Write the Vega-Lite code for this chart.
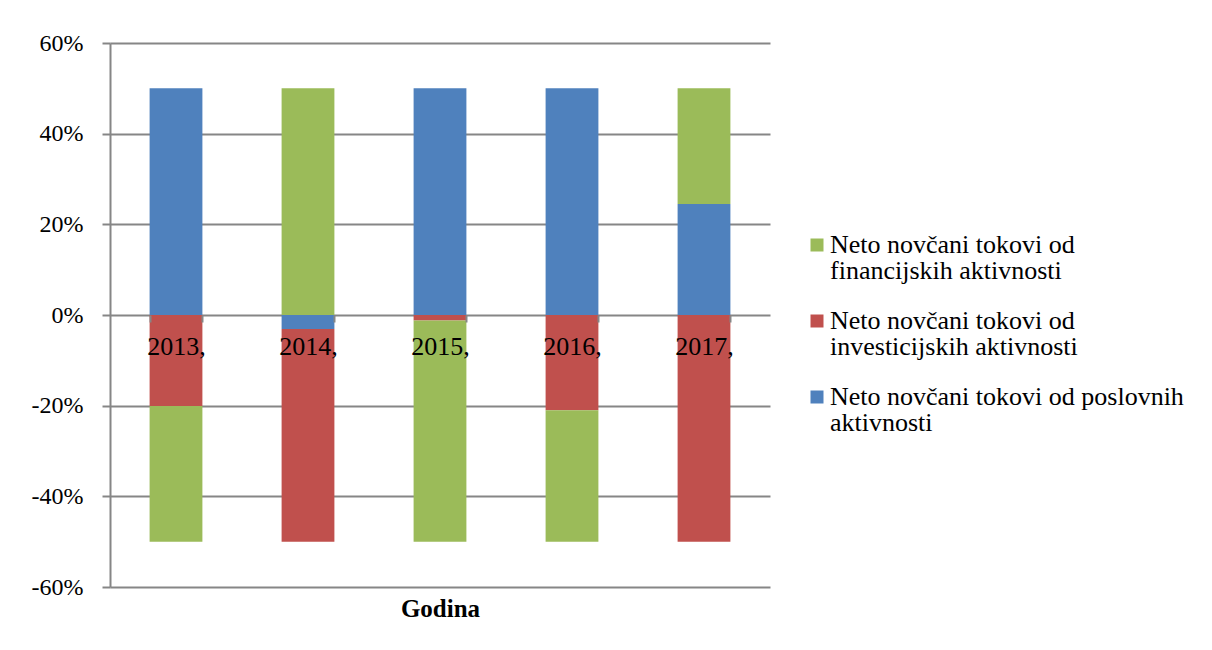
{
  "$schema": "https://vega.github.io/schema/vega-lite/v6.json",
  "width": 660,
  "height": 544,
  "autosize": {"type": "none"},
  "padding": {"left": 110, "top": 43, "right": 442, "bottom": 63},
  "background": "white",
  "config": {
    "view": {"stroke": null},
    "font": "Liberation Serif",
    "locale": {"number": {"decimal": ".", "thousands": ",", "grouping": [3], "currency": ["", ""], "minus": "-"}}
  },
  "data": {
    "values": [
      {"year": "2013,", "series": "Neto novčani tokovi od poslovnih aktivnosti", "ord": 1, "value": 0.50},
      {"year": "2013,", "series": "Neto novčani tokovi od investicijskih aktivnosti", "ord": 2, "value": -0.201},
      {"year": "2013,", "series": "Neto novčani tokovi od financijskih aktivnosti", "ord": 3, "value": -0.299},
      {"year": "2014,", "series": "Neto novčani tokovi od poslovnih aktivnosti", "ord": 1, "value": -0.031},
      {"year": "2014,", "series": "Neto novčani tokovi od investicijskih aktivnosti", "ord": 2, "value": -0.469},
      {"year": "2014,", "series": "Neto novčani tokovi od financijskih aktivnosti", "ord": 3, "value": 0.50},
      {"year": "2015,", "series": "Neto novčani tokovi od poslovnih aktivnosti", "ord": 1, "value": 0.50},
      {"year": "2015,", "series": "Neto novčani tokovi od investicijskih aktivnosti", "ord": 2, "value": -0.012},
      {"year": "2015,", "series": "Neto novčani tokovi od financijskih aktivnosti", "ord": 3, "value": -0.488},
      {"year": "2016,", "series": "Neto novčani tokovi od poslovnih aktivnosti", "ord": 1, "value": 0.50},
      {"year": "2016,", "series": "Neto novčani tokovi od investicijskih aktivnosti", "ord": 2, "value": -0.21},
      {"year": "2016,", "series": "Neto novčani tokovi od financijskih aktivnosti", "ord": 3, "value": -0.29},
      {"year": "2017,", "series": "Neto novčani tokovi od poslovnih aktivnosti", "ord": 1, "value": 0.245},
      {"year": "2017,", "series": "Neto novčani tokovi od investicijskih aktivnosti", "ord": 2, "value": -0.50},
      {"year": "2017,", "series": "Neto novčani tokovi od financijskih aktivnosti", "ord": 3, "value": 0.255}
    ]
  },
  "mark": {"type": "bar"},
  "encoding": {
    "x": {
      "field": "year",
      "type": "nominal",
      "sort": null,
      "scale": {"paddingInner": 0.6, "paddingOuter": 0.3},
      "axis": {
        "zindex": 1,
        "title": "Godina",
        "titleFont": "Liberation Serif",
        "titleFontSize": 25,
        "titleFontWeight": "bold",
        "titleColor": "black",
        "titleX": 330,
        "titleY": 301,
        "titleAlign": "center",
        "titleBaseline": "alphabetic",
        "titleAnchor": null,
        "offset": -272,
        "labelAngle": 0,
        "labelFont": "Liberation Serif",
        "labelFontSize": 26,
        "labelColor": "black",
        "labelBaseline": "alphabetic",
        "labelPadding": 32,
        "tickBand": "extent",
        "tickSize": 7,
        "tickColor": "#868686",
        "tickWidth": 2,
        "domain": false,
        "grid": false
      }
    },
    "y": {
      "field": "value",
      "type": "quantitative",
      "stack": "zero",
      "scale": {"domain": [-0.6, 0.6], "nice": false},
      "axis": {
        "title": null,
        "values": [-0.6, -0.4, -0.2, 0, 0.2, 0.4, 0.6],
        "format": ".0%",
        "labelFont": "Liberation Serif",
        "labelFontSize": 24,
        "labelColor": "black",
        "labelPadding": 19,
        "tickSize": 8,
        "tickColor": "#868686",
        "tickWidth": 2,
        "domainColor": "#868686",
        "domainWidth": 2,
        "grid": true,
        "gridColor": "#868686",
        "gridWidth": 2
      }
    },
    "color": {
      "field": "series",
      "type": "nominal",
      "scale": {
        "domain": [
          "Neto novčani tokovi od financijskih aktivnosti",
          "Neto novčani tokovi od investicijskih aktivnosti",
          "Neto novčani tokovi od poslovnih aktivnosti"
        ],
        "range": ["#9BBB59", "#C0504D", "#4F81BD"]
      },
      "legend": {
        "title": null,
        "orient": "none",
        "legendX": 694,
        "legendY": 189,
        "padding": 0,
        "symbolType": "square",
        "symbolSize": 169,
        "symbolStrokeWidth": 0,
        "symbolOpacity": 1,
        "labelFont": "Liberation Serif",
        "labelFontSize": 26,
        "labelColor": "black",
        "labelOffset": 0,
        "labelLimit": 500,
        "rowPadding": 24,
        "labelExpr": "datum.label == 'Neto novčani tokovi od financijskih aktivnosti' ? ['Neto novčani tokovi od', 'financijskih aktivnosti'] : datum.label == 'Neto novčani tokovi od investicijskih aktivnosti' ? ['Neto novčani tokovi od', 'investicijskih aktivnosti'] : ['Neto novčani tokovi od poslovnih', 'aktivnosti']",
        "encode": {"labels": {"update": {"lineHeight": {"value": 26}}}}
      }
    },
    "order": {"field": "ord", "type": "quantitative"}
  }
}
